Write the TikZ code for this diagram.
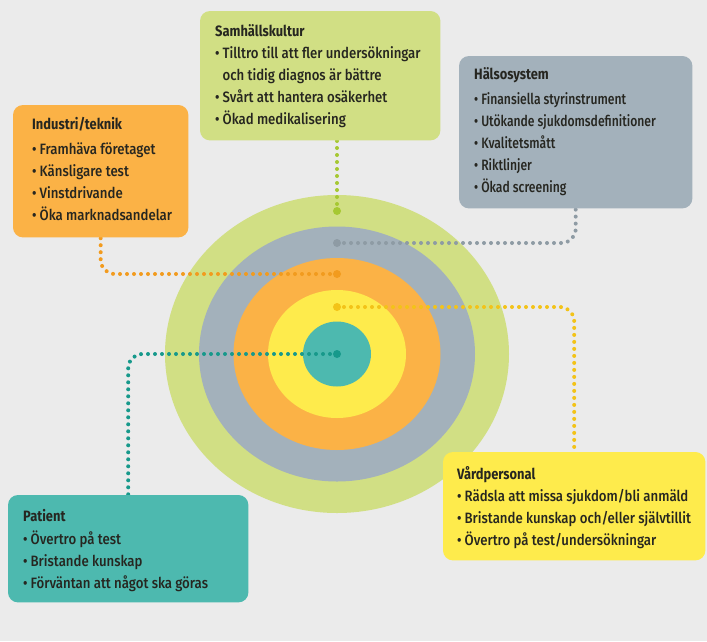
\documentclass[tikz,border=0pt]{standalone}
\usepackage{fontspec}
\setmainfont{Fira Sans}[UprightFont=* Medium, BoldFont=* Bold, FakeStretch=0.88]
\newfontfamily\titlefont{Fira Sans}[UprightFont=* Bold, FakeStretch=0.86]
\newfontfamily\narrowfont{Fira Sans}[UprightFont=* Medium, FakeStretch=0.81]
\definecolor{bg}{HTML}{EBEBEB}
\definecolor{cgreen}{HTML}{D1DF84}
\definecolor{cgray}{HTML}{A3B1BB}
\definecolor{corange}{HTML}{FBB246}
\definecolor{cyellow}{HTML}{FEEB4C}
\definecolor{cteal}{HTML}{4DB9AF}
\definecolor{dgreen}{HTML}{A6C832}
\definecolor{dgray}{HTML}{8E9BA4}
\definecolor{dorange}{HTML}{F29B1E}
\definecolor{dyellow}{HTML}{F3C318}
\definecolor{dteal}{HTML}{17998B}
\definecolor{ink}{HTML}{262620}
\newcommand\bl{•\hspace{3pt}}
\newcommand\ind{\phantom{•}\hspace{3pt}}
\newcommand\ttl[1]{{\titlefont #1}}
\tikzset{
  box/.style={rounded corners=10pt, inner sep=0pt, anchor=north west},
  txt/.style={anchor=north west, inner sep=0pt, align=left,
    font=\fontsize{15}{22}\selectfont, text=ink},
  dotline/.style={line width=4pt, line cap=round, dash pattern=on 0pt off 7pt,
    rounded corners=14pt},
  enddot/.style={circle, inner sep=0pt, minimum size=8pt}
}
\begin{document}
\begin{tikzpicture}[x=1pt,y=-1pt]
\fill[bg] (0,0) rectangle (707,641);
\useasboundingbox (0,0) rectangle (707,641);

% concentric rings
\fill[cgreen]  (337,354) ellipse [x radius=172pt, y radius=159pt];
\fill[cgray]   (337,354) ellipse [x radius=138pt, y radius=127.5pt];
\fill[corange] (337,354) ellipse [x radius=103.5pt, y radius=96pt];
\fill[cyellow] (337,354) ellipse [x radius=69pt, y radius=64pt];
\fill[cteal]   (337,354) ellipse [x radius=34pt, y radius=32.5pt];

\coordinate (eG) at (337,211);
\coordinate (eH) at (337,243);
\coordinate (eI) at (337,274);
\coordinate (eV) at (337,307);
\coordinate (eP) at (337,354);

\path (200,11) node[box, minimum width=240pt, minimum height=129pt] (samh) {};
\path (13,105) node[box, minimum width=175pt, minimum height=132pt] (ind) {};
\path (459,56) node[box, minimum width=233pt, minimum height=152pt] (hals) {};
\path (8,495) node[box, minimum width=240pt, minimum height=107pt] (pat) {};
\path (443,452) node[box, minimum width=262pt, minimum height=108pt] (vard) {};

% dotted connectors
\draw[dotline, dgreen]  (eG) -- (eG |- samh.south);
\draw[dotline, dgray]   (eH) -| (hals.south);
\draw[dotline, dorange] (eI) -| (ind.south);
\draw[dotline, dyellow] (eV) -| (vard.north);
\draw[dotline, dteal]   (eP) -| (pat.north);

\node[enddot, fill=dgreen]  (dG) at (eG) {};
\node[enddot, fill=dgray]   (dH) at (eH) {};
\node[enddot, fill=dorange] (dI) at (eI) {};
\node[enddot, fill=dyellow] (dV) at (eV) {};
\node[enddot, fill=dteal]   (dP) at (eP) {};

% box fills
\fill[cgreen, rounded corners=10pt] (samh.north west) rectangle (samh.south east);
\fill[corange, rounded corners=10pt] (ind.north west) rectangle (ind.south east);
\fill[cgray, rounded corners=10pt] (hals.north west) rectangle (hals.south east);
\fill[cteal, rounded corners=10pt] (pat.north west) rectangle (pat.south east);
\fill[cyellow, rounded corners=10pt] (vard.north west) rectangle (vard.south east);

% texts
\node[txt] (samhT) at (215,24) {\ttl{Samhällskultur}\\
  \bl Tilltro till att fler undersökningar\\
  \ind och tidig diagnos är bättre\\
  \bl Svårt att hantera osäkerhet\\
  \bl Ökad medikalisering};
\node[txt] (indT) at (32,117) {\ttl{Industri/teknik}\\[3pt]
  \bl Framhäva företaget\\
  \bl Känsligare test\\
  \bl Vinstdrivande\\
  \bl Öka marknadsandelar};
\node[txt, font=\fontsize{15}{22}\narrowfont] (halsT) at (474,67) {\ttl{Hälsosystem}\\[3pt]
  \bl Finansiella styrinstrument\\
  \bl Utökande sjukdomsdefinitioner\\
  \bl Kvalitetsmått\\
  \bl Riktlinjer\\
  \bl Ökad screening};
\node[txt] (patT) at (23,509) {\ttl{Patient}\\[1pt]
  \bl Övertro på test\\
  \bl Bristande kunskap\\
  \bl Förväntan att något ska göras};
\node[txt] (vardT) at (457,466) {\ttl{Vårdpersonal}\\
  \bl Rädsla att missa sjukdom/bli anmäld\\
  \bl Bristande kunskap och/eller självtillit\\
  \bl Övertro på test/undersökningar};
\end{tikzpicture}
\end{document}
